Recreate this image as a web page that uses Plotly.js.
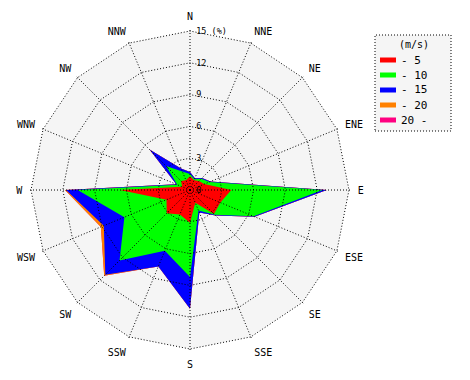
<!DOCTYPE html>
<html><head><meta charset="utf-8">
<script src="https://cdn.plot.ly/plotly-3.0.1.min.js"></script>
<style>html,body{margin:0;padding:0;background:#fff}#chart{width:470px;height:380px}</style>
</head><body><div id="chart"></div>
<script>
const directions = ['N','NNE','NE','ENE','E','ESE','SE','SSE','S','SSW','SW','WSW','W','WNW','NW','NNW'];
const speedClasses = ['- 5','- 10','- 15','- 20','20 -'];
const classColors = ['#ff0000','#00ff00','#0000ff','#ff8000','#ff0080'];
const legendTitle = '(m/s)';
// frequency (%) of each speed class per direction
const freqUpTo5   = [1.3,1.0,1.2,1.45,3.9,3.1,3.2,1.3,3.1,2.5,3.1,2.4,6.6,0.8,1.2,1.0];
const freq5to10   = [0.2,0.1,0.3,0.55,8.6,3.4,0.1,0.8,5.1,3.7,6.3,4.3,4.0,0.5,2.0,0.9];
const freq10to15  = [0.2,0.1,0.1,0.1,0.4,0.1,0.1,0.2,3.0,1.6,1.9,2.1,1.1,0.1,2.2,0.3];
const freq15to20  = [0,0,0,0,0,0,0,0,0,0,0.15,0.3,0.1,0,0,0];
const freqOver20  = [0,0,0,0,0,0,0,0,0,0,0,0,0,0,0,0];
const radialTicks = [0,3,6,9,12,15];
const radialTickText = ['0','3','6','9','12','15 (%)'];

const classFreqs = [freqUpTo5, freq5to10, freq10to15, freq15to20, freqOver20];
let run = directions.map(() => 0);
const cumulative = classFreqs.map(arr => { run = run.map((c, i) => c + arr[i]); return run.slice(); });

const traces = [];
for (let k = cumulative.length - 1; k >= 0; k--) {
  traces.push({type:'scatterpolar', subplot:'polar', r:cumulative[k], theta:directions,
    mode:'none', fill:'toself', fillcolor:classColors[k], name:speedClasses[k], hoverinfo:'skip'});
}
traces.push({type:'scatterpolar', subplot:'polar2', r:cumulative[cumulative.length-1], theta:directions,
  mode:'none', showlegend:false, hoverinfo:'skip'});

const mono = 'DejaVu Sans Mono';
const dotted = '1px,2px';
const W = 470, H = 380, cx = 190, cy = 190, R = 159;
const rMax = 15, rMax2 = 15.12, R2 = R * rMax2 / rMax;
const dom  = {x:[(cx-R)/W, (cx+R)/W],   y:[(H-cy-R)/H, (H-cy+R)/H]};
const dom2 = {x:[(cx-R2)/W, (cx+R2)/W], y:[(H-cy-R2)/H, (H-cy+R2)/H]};

// hand-built legend box (paper coords)
const lgX0 = 375/W, lgX1 = 451/W, lgTop = 1-35/H, lgBot = 1-131/H;
const shapes = [{type:'rect', xref:'paper', yref:'paper', x0:lgX0, x1:lgX1, y0:lgBot, y1:lgTop,
  line:{color:'#000', width:1, dash:dotted}, fillcolor:'#f5f5f5', layer:'below'}];
const annotations = [{xref:'paper', yref:'paper', x:414/W, y:1-44/H, text:legendTitle, showarrow:false,
  xanchor:'center', yanchor:'middle', font:{family:mono, size:10, color:'#000'}}];
speedClasses.forEach((name, i) => {
  const yc = 60 + 15*i;
  shapes.push({type:'rect', xref:'paper', yref:'paper', x0:380/W, x1:396/W,
    y0:1-(yc+2.5)/H, y1:1-(yc-2.5)/H, line:{width:0}, fillcolor:classColors[i], layer:'above'});
  annotations.push({xref:'paper', yref:'paper', x:399/W, y:1-yc/H, text:name, showarrow:false,
    xanchor:'left', yanchor:'middle', font:{family:mono, size:11, color:'#000'}});
});

const layout = {
  width:W, height:H, margin:{l:0,r:0,t:0,b:0}, paper_bgcolor:'#ffffff',
  showlegend:false,
  polar:{domain:dom, bgcolor:'#f5f5f5', gridshape:'linear',
    radialaxis:{range:[0,rMax], showgrid:false, showline:false, showticklabels:false, ticks:''},
    angularaxis:{type:'category', categoryarray:directions, categoryorder:'array', rotation:90, direction:'clockwise',
      showgrid:false, showline:false, showticklabels:false, ticks:''}},
  polar2:{domain:dom2, bgcolor:'rgba(0,0,0,0)', gridshape:'linear',
    radialaxis:{range:[0,rMax2], tickvals:radialTicks, ticktext:radialTickText, angle:90, tickangle:90,
      showline:false, gridcolor:'#000', griddash:dotted, gridwidth:1, ticks:'outside', ticklen:4,
      tickcolor:'rgba(0,0,0,0)', tickfont:{family:mono, size:8.5, color:'#000'}},
    angularaxis:{type:'category', categoryarray:directions, categoryorder:'array', rotation:90, direction:'clockwise',
      gridcolor:'#000', griddash:dotted, gridwidth:1, showline:false, ticks:'outside', ticklen:5,
      tickcolor:'rgba(0,0,0,0)', tickfont:{family:mono, size:10, color:'#000'}}},
  shapes:shapes,
  annotations:annotations
};
Plotly.newPlot('chart', traces, layout, {staticPlot:true});
</script></body></html>
